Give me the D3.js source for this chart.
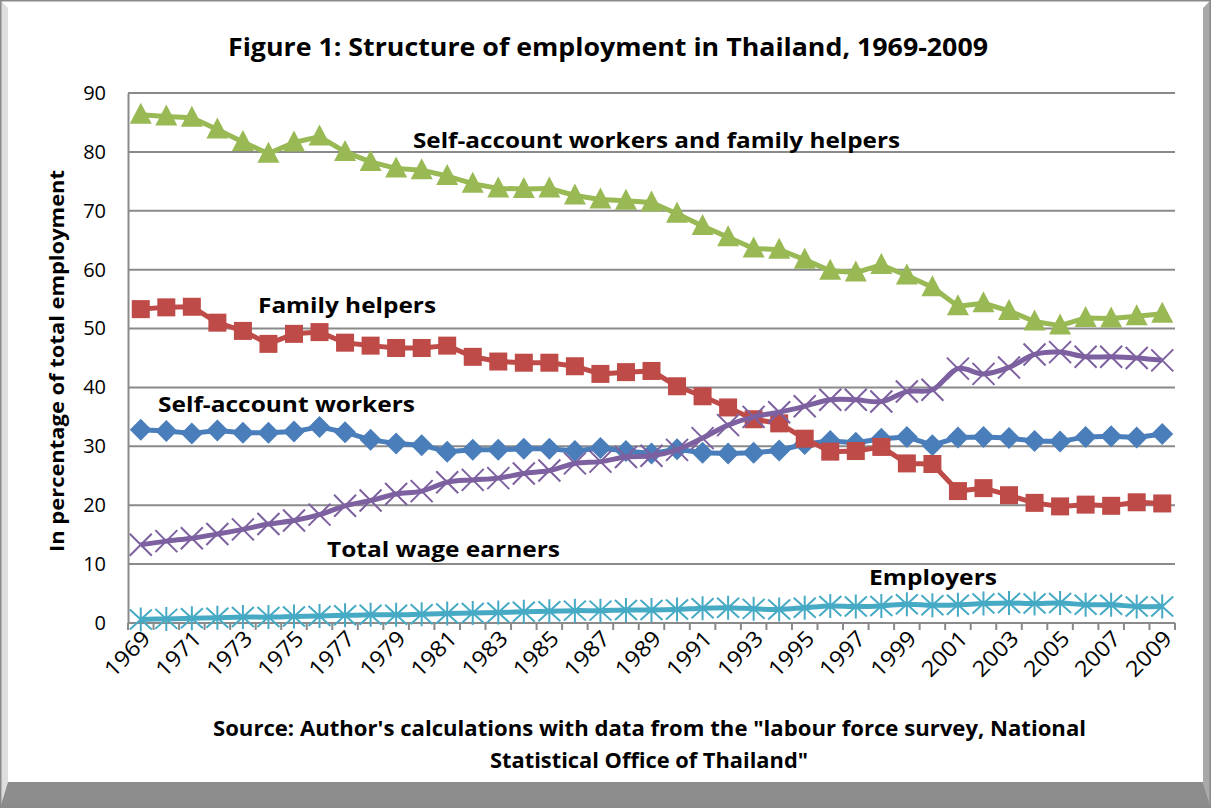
<!DOCTYPE html>
<html>
<head>
<meta charset="utf-8">
<title>Structure of employment in Thailand</title>
<style>
  body { margin: 0; background: #fff; }
  text { font-family: "Open Sans", "Liberation Sans", sans-serif; }
</style>
</head>
<body>
<svg id="chart" width="1211" height="808"></svg>
<script src="https://cdnjs.cloudflare.com/ajax/libs/d3/7.8.5/d3.min.js"></script>
<script>
// data
var years = d3.range(1969, 2010);
var selfAndFamily = [86.3, 86.0, 85.8, 83.8, 81.7, 79.7, 81.6, 82.6, 80.0, 78.3, 77.2, 76.9, 75.9, 74.6, 73.8, 73.7, 73.8, 72.6, 71.9, 71.7, 71.4,
  69.5, 67.4, 65.5, 63.6, 63.4, 61.7, 59.8, 59.5, 60.8, 59.0, 57.0, 53.8, 54.3, 53.0, 51.2, 50.5, 51.8, 51.7, 52.1, 52.5];
var familyHelpers = [53.3, 53.6, 53.7, 51.0, 49.6, 47.4, 49.1, 49.4, 47.6, 47.1, 46.7, 46.7, 47.1, 45.2, 44.4, 44.2, 44.2, 43.6, 42.3, 42.6, 42.8,
  40.2, 38.5, 36.6, 34.6, 33.9, 31.3, 29.1, 29.2, 29.9, 27.1, 27.0, 22.4, 22.9, 21.7, 20.4, 19.8, 20.1, 19.9, 20.5, 20.3];
var selfAccount = [32.8, 32.6, 32.2, 32.7, 32.3, 32.3, 32.5, 33.3, 32.4, 31.1, 30.5, 30.2, 29.1, 29.4, 29.4, 29.6, 29.6, 29.2, 29.7, 29.2, 28.8,
  29.5, 28.9, 28.8, 28.9, 29.3, 30.4, 30.9, 30.6, 31.3, 31.6, 30.2, 31.5, 31.6, 31.4, 30.9, 30.8, 31.6, 31.7, 31.5, 32.1];
var wageEarners = [13.3, 13.9, 14.4, 15.1, 15.9, 16.8, 17.4, 18.4, 19.9, 20.8, 21.9, 22.4, 23.9, 24.3, 24.6, 25.4, 25.9, 27.1, 27.4, 28.2, 28.4,
  29.4, 31.4, 33.6, 35.0, 35.8, 36.8, 37.9, 37.9, 37.6, 39.3, 39.6, 43.2, 42.3, 43.4, 45.6, 46.0, 45.2, 45.2, 45.0, 44.6];
var employers = [0.6, 0.7, 0.8, 0.9, 1.0, 1.0, 1.1, 1.2, 1.3, 1.4, 1.4, 1.5, 1.6, 1.7, 1.8, 1.9, 2.0, 2.1, 2.1, 2.2, 2.2,
  2.3, 2.5, 2.6, 2.4, 2.3, 2.6, 2.9, 2.8, 2.9, 3.2, 3.0, 3.1, 3.3, 3.4, 3.3, 3.4, 3.1, 3.1, 2.8, 2.8];
var yTicks = [0, 10, 20, 30, 40, 50, 60, 70, 80, 90];

var series = [
  {name: "Self-account workers", values: selfAccount, color: "#4a7ebb", marker: "diamond", smooth: false},
  {name: "Family helpers", values: familyHelpers, color: "#be4b48", marker: "square", smooth: false},
  {name: "Self-account workers and family helpers", values: selfAndFamily, color: "#98b954", marker: "triangle", smooth: false},
  {name: "Total wage earners", values: wageEarners, color: "#7d60a0", marker: "x", smooth: true},
  {name: "Employers", values: employers, color: "#46aac5", marker: "star", smooth: true}
];

var svg = d3.select('#chart');

// frame with bevel
svg.append('rect').attr('x', 0).attr('y', 0).attr('width', 1211).attr('height', 808).attr('fill', '#fff');
svg.append('polygon').attr('points', '0,0 8,8 8,782 0,808').attr('fill', '#dedede');
svg.append('polygon').attr('points', '1211,0 1203,8 1203,782 1211,808').attr('fill', '#a8a8a8');
svg.append('polygon').attr('points', '0,808 8,782 1203,782 1211,808').attr('fill', '#8c8c8c');
svg.append('rect').attr('x', 0.5).attr('y', 0.5).attr('width', 1210).attr('height', 807)
  .attr('fill', 'none').attr('stroke', '#8a8a8a').attr('stroke-width', 2);

var x = d3.scaleBand().domain(years).range([128, 1175]);
var y = d3.scaleLinear().domain([0, 90]).range([623, 93]);
function cx(d, i) { return x(years[i]) + x.bandwidth() / 2; }

// grid
svg.append('g').selectAll('line').data(yTicks.slice(1)).enter().append('line')
  .attr('x1', 128).attr('x2', 1175)
  .attr('y1', function(d) { return y(d); }).attr('y2', function(d) { return y(d); })
  .attr('stroke', '#8a8a8a').attr('stroke-width', 2);

// y axis
var yAxis = svg.append('g').attr('transform', 'translate(128,0)')
  .call(d3.axisLeft(y).tickValues(yTicks).tickSize(0).tickPadding(22));
yAxis.select('.domain').attr('stroke', '#8a8a8a').attr('stroke-width', 2);
yAxis.selectAll('text').attr('font-size', 20).attr('fill', '#000').style('font-family', '"Open Sans", sans-serif');

// x axis with ticks between categories
var xg = svg.append('g');
xg.append('line').attr('x1', 128).attr('x2', 1175).attr('y1', 623).attr('y2', 623)
  .attr('stroke', '#8a8a8a').attr('stroke-width', 2);
xg.selectAll('.tk').data(years.concat([2010])).enter().append('line')
  .attr('x1', function(d) { return d === 2010 ? 1175 : x(d); })
  .attr('x2', function(d) { return d === 2010 ? 1175 : x(d); })
  .attr('y1', 623).attr('y2', 630)
  .attr('stroke', '#8a8a8a').attr('stroke-width', 2);
xg.selectAll('.lbl').data(years.filter(function(d) { return (d - 1969) % 2 === 0; })).enter().append('text')
  .attr('transform', function(d) {
    var px = x(d) + x.bandwidth() / 2 + 11;
    return 'translate(' + px + ',640) rotate(-45)';
  })
  .attr('text-anchor', 'end').attr('font-size', 22).attr('fill', '#000')
  .attr('textLength', 54).attr('lengthAdjust', 'spacingAndGlyphs')
  .text(function(d) { return d; });

// lines
series.forEach(function(s) {
  var line = d3.line().x(cx).y(function(d) { return y(d); })
    .curve(s.smooth ? d3.curveCatmullRom.alpha(0.5) : d3.curveLinear);
  svg.append('path').datum(s.values).attr('d', line)
    .attr('fill', 'none').attr('stroke', s.color).attr('stroke-width', 5).attr('stroke-linejoin', 'round');

  var g = svg.append('g');
  var pts = g.selectAll('.m').data(s.values).enter();
  if (s.marker === 'diamond') {
    pts.append('path').attr('d', 'M0,-11L11,0L0,11L-11,0Z').attr('fill', s.color)
      .attr('transform', function(d, i) { return 'translate(' + cx(d, i) + ',' + y(d) + ')'; });
  } else if (s.marker === 'square') {
    pts.append('rect').attr('x', -9).attr('y', -9).attr('width', 18).attr('height', 18).attr('fill', s.color)
      .attr('transform', function(d, i) { return 'translate(' + cx(d, i) + ',' + y(d) + ')'; });
  } else if (s.marker === 'triangle') {
    pts.append('path').attr('d', 'M0,-12L11,9L-11,9Z').attr('fill', s.color)
      .attr('transform', function(d, i) { return 'translate(' + cx(d, i) + ',' + y(d) + ')'; });
  } else if (s.marker === 'x') {
    pts.append('path').attr('d', 'M-11,-11L11,11M-11,11L11,-11').attr('stroke', s.color).attr('stroke-width', 2)
      .attr('transform', function(d, i) { return 'translate(' + cx(d, i) + ',' + y(d) + ')'; });
  } else {
    pts.append('path').attr('d', 'M-11,-10L11,10M-11,10L11,-10M0,-12L0,12').attr('stroke', s.color).attr('stroke-width', 2)
      .attr('transform', function(d, i) { return 'translate(' + cx(d, i) + ',' + y(d) + ')'; });
  }
});

// series labels
var labels = [
  {text: "Self-account workers and family helpers", x: 413, y: 148, w: 487},
  {text: "Family helpers", x: 258, y: 313, w: 178},
  {text: "Self-account workers", x: 158, y: 412, w: 257},
  {text: "Total wage earners", x: 327, y: 557, w: 233},
  {text: "Employers", x: 869, y: 585, w: 128}
];
svg.append('g').selectAll('text').data(labels).enter().append('text')
  .attr('x', function(d) { return d.x; }).attr('y', function(d) { return d.y; })
  .attr('textLength', function(d) { return d.w; }).attr('lengthAdjust', 'spacingAndGlyphs')
  .attr('font-size', 22).attr('font-weight', 'bold').attr('fill', '#000')
  .text(function(d) { return d.text; });

// titles
svg.append('text').attr('x', 228).attr('y', 56).attr('textLength', 760).attr('lengthAdjust', 'spacingAndGlyphs')
  .attr('font-size', 25).attr('font-weight', 'bold').text("Figure 1: Structure of employment in Thailand, 1969-2009");
svg.append('text').attr('transform', 'translate(64,361) rotate(-90)').attr('text-anchor', 'middle')
  .attr('font-size', 19).attr('font-weight', 'bold').attr('textLength', 382).attr('lengthAdjust', 'spacingAndGlyphs')
  .text("In percentage of total employment");
svg.append('text').attr('x', 213).attr('y', 736).attr('textLength', 873).attr('lengthAdjust', 'spacingAndGlyphs')
  .attr('font-size', 21).attr('font-weight', 'bold')
  .text('Source: Author\'s calculations with data from the "labour force survey, National');
svg.append('text').attr('x', 490).attr('y', 768).attr('textLength', 318).attr('lengthAdjust', 'spacingAndGlyphs')
  .attr('font-size', 21).attr('font-weight', 'bold')
  .text('Statistical Office of Thailand"');
</script>
</body>
</html>
